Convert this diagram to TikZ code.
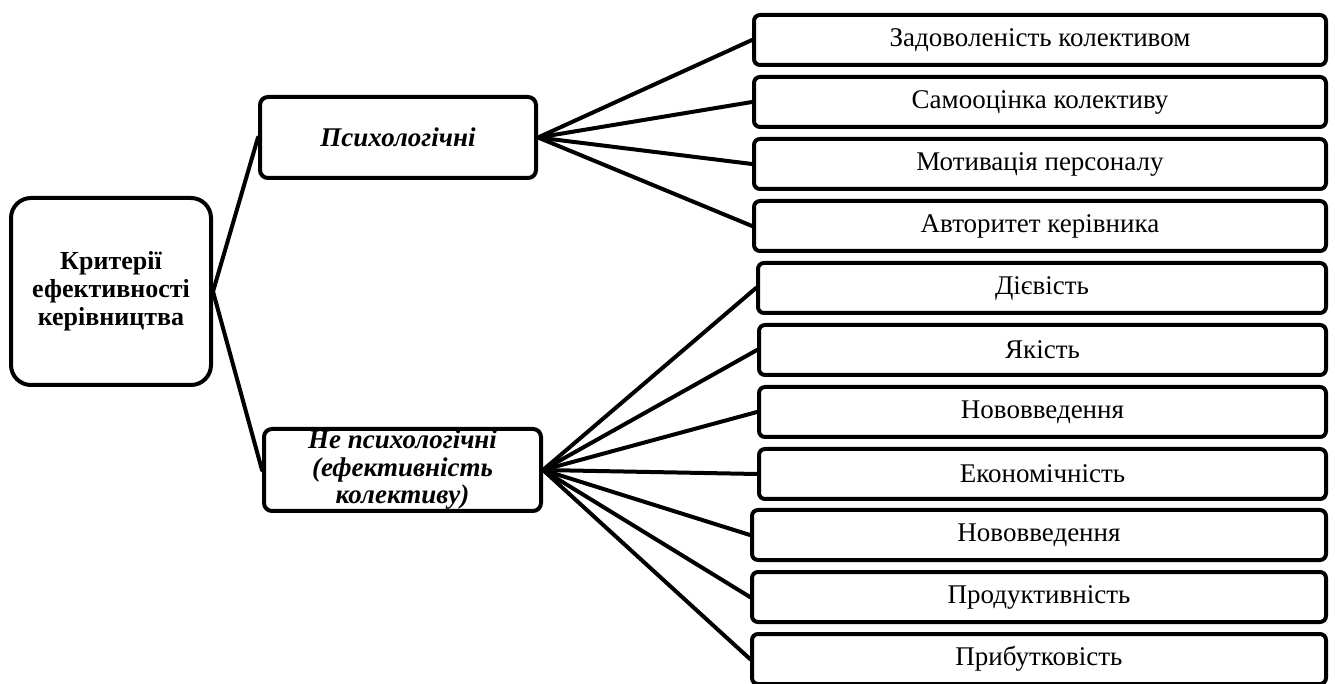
\documentclass[tikz,border=0pt]{standalone}
\usepackage{fontspec}
\setmainfont{Liberation Serif}
\begin{document}
\begin{tikzpicture}[x=0.5pt,y=-0.5pt,
  box/.style={draw=black, line width=2pt, inner sep=0pt, align=center},
  leaf/.style={box, rounded corners=3pt, minimum height=25pt, font=\fontsize{13.5}{14}\selectfont},
  mid/.style={box, rounded corners=4pt, font=\fontsize{13.5}{13.75}\selectfont\bfseries\itshape},
  rootbox/.style={box, rounded corners=10pt, minimum width=100pt, minimum height=93.5pt, font=\fontsize{13}{14}\selectfont\bfseries},
  link/.style={line width=2pt, line cap=round}]
\useasboundingbox (0,0) rectangle (1335,684);
\begin{scope}
\clip (0,0) rectangle (1335,684);
\node[rootbox] (root) at (111,291.5) {Критерії\\ефективності\\керівництва};
\node[mid, minimum width=138pt, minimum height=40.5pt] (psy) at (398,137.5) {Психологічні};
\node[mid, minimum width=138.5pt, minimum height=41pt] (npsy) at (402.5,470) {Не психологічні\\(ефективність\\колективу)};

\node[leaf, minimum width=286pt] (a1) at (1040,40) {Задоволеність колективом};
\node[leaf, minimum width=286pt] (a2) at (1040,102) {Самооцінка колективу};
\node[leaf, minimum width=286pt] (a3) at (1040,164) {Мотивація персоналу};
\node[leaf, minimum width=286pt] (a4) at (1040,226) {Авторитет керівника};

\node[leaf, minimum width=284pt] (b1) at (1042,288) {Дієвість};
\node[leaf, minimum width=283.5pt] (b2) at (1042.5,350) {Якість};
\node[leaf, minimum width=283.5pt] (b3) at (1042.5,412) {Нововведення};
\node[leaf, minimum width=283.5pt] (b4) at (1042.5,474) {Економічність};
\node[leaf, minimum width=287pt] (b5) at (1039,535) {Нововведення};
\node[leaf, minimum width=287pt] (b6) at (1039,597) {Продуктивність};
\node[leaf, minimum width=287pt] (b7) at (1039,659) {Прибутковість};

\draw[link] (root.east) -- (psy.west);
\draw[link] (root.east) -- (npsy.west);
\foreach \n in {a1,a2,a3,a4} \draw[link] (psy.east) -- (\n.west);
\foreach \n in {b1,b2,b3,b4,b5,b6,b7} \draw[link] (npsy.east) -- (\n.west);
\end{scope}
\end{tikzpicture}
\end{document}
